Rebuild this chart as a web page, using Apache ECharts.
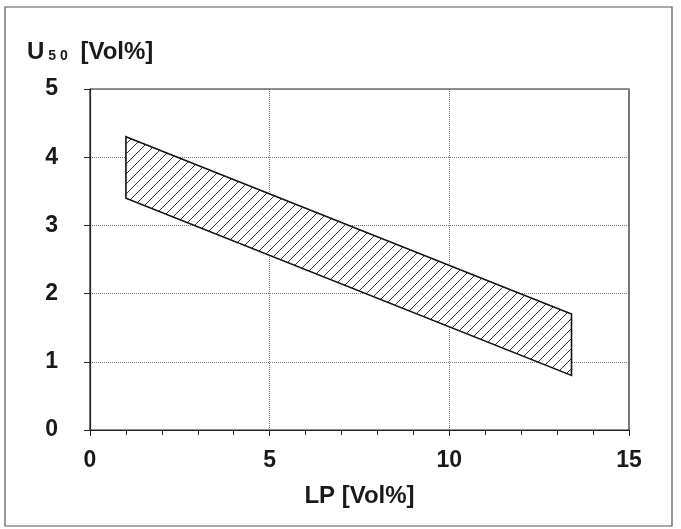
<!DOCTYPE html>
<html>
<head>
<meta charset="utf-8">
<script src="https://cdn.jsdelivr.net/npm/echarts@6/dist/echarts.min.js"></script>
<style>html,body{margin:0;padding:0;background:#fff}#c{width:681px;height:529px}</style>
</head>
<body>
<div id="c"></div>
<script>
// Band boundaries
var lpValues = [1, 13.4];
var upperU50 = [4.3, 1.7];
var lowerU50 = [3.4, 0.8];
var xTicks = [0, 5, 10, 15];
var yTicks = [0, 1, 2, 3, 4, 5];

var bandData = lpValues.map(function (x, i) { return [x, lowerU50[i], upperU50[i]]; });

// hatch pattern ////
var pc = document.createElement('canvas');
var S = 10;
pc.width = S; pc.height = S;
var ctx = pc.getContext('2d');
ctx.fillStyle = '#fff';
ctx.fillRect(0, 0, S, S);
ctx.strokeStyle = '#333';
ctx.lineWidth = 1;
ctx.beginPath();
ctx.moveTo(-1, S + 1); ctx.lineTo(S + 1, -1);
ctx.moveTo(-1, 1); ctx.lineTo(1, -1);
ctx.moveTo(S - 1, S + 1); ctx.lineTo(S + 1, S - 1);
ctx.stroke();

var chart = echarts.init(document.getElementById('c'), null, { renderer: 'canvas' });
var font = 'Liberation Sans, Arial, sans-serif';
var txt = { fontFamily: font, fontSize: 23, fontWeight: 'bold', color: '#1a1a1a' };
chart.setOption({
  backgroundColor: '#fff',
  animation: false,
  grid: { left: 90, right: 52, top: 89, bottom: 99, show: true, borderColor: '#222', borderWidth: 1.2, backgroundColor: 'transparent' },
  graphic: [
    { type: 'rect', shape: { x: 5, y: 7, width: 667, height: 519 }, style: { fill: 'none', stroke: '#555', lineWidth: 1.2 }, silent: true },
    { type: 'text', left: 27, top: 40, style: {
      text: '{a|U}{b|5 0}{a| [Vol%]}',
      rich: {
        a: { fontFamily: font, fontSize: 24, fontWeight: 'bold', fill: '#1a1a1a' },
        b: { fontFamily: font, fontSize: 14, fontWeight: 'bold', fill: '#1a1a1a', padding: [9, 6, 0, 4] }
      }
    } }
  ],
  xAxis: {
    type: 'value', min: 0, max: 15, interval: 5,
    name: 'LP [Vol%]', nameLocation: 'middle', nameGap: 54,
    nameTextStyle: Object.assign({}, txt, { fontSize: 24 }),
    axisLine: { show: true, lineStyle: { color: '#222', width: 1.2 } },
    axisTick: { show: true, length: 6, lineStyle: { color: '#222' } },
    minorTick: { show: true, splitNumber: 5, length: 5, lineStyle: { color: '#222' } },
    axisLabel: Object.assign({ margin: 19, formatter: function (v) { return xTicks.indexOf(v) >= 0 ? String(v) : ''; } }, txt),
    splitLine: { show: true, lineStyle: { color: '#777', type: 'dotted', width: 1 } }
  },
  yAxis: {
    type: 'value', min: 0, max: 5, interval: 1,
    axisLine: { show: true, lineStyle: { color: '#222', width: 1.2 } },
    axisTick: { show: true, length: 6, lineStyle: { color: '#222' } },
    axisLabel: Object.assign({ margin: 32, formatter: function (v) { return yTicks.indexOf(v) >= 0 ? String(v) : ''; } }, txt),
    splitLine: { show: true, lineStyle: { color: '#777', type: 'dotted', width: 1 } }
  },
  series: [{
    type: 'custom',
    data: bandData,
    encode: { x: 0, y: [1, 2] },
    renderItem: function (params, api) {
      var i = params.dataIndex;
      if (i >= bandData.length - 1) return null;
      var a = bandData[i], b = bandData[i + 1];
      var pts = [
        api.coord([a[0], a[2]]),
        api.coord([b[0], b[2]]),
        api.coord([b[0], b[1]]),
        api.coord([a[0], a[1]])
      ];
      return {
        type: 'polygon',
        shape: { points: pts },
        style: { fill: { image: pc, repeat: 'repeat' }, stroke: '#111', lineWidth: 1.6 }
      };
    }
  }]
});
</script>
</body>
</html>
